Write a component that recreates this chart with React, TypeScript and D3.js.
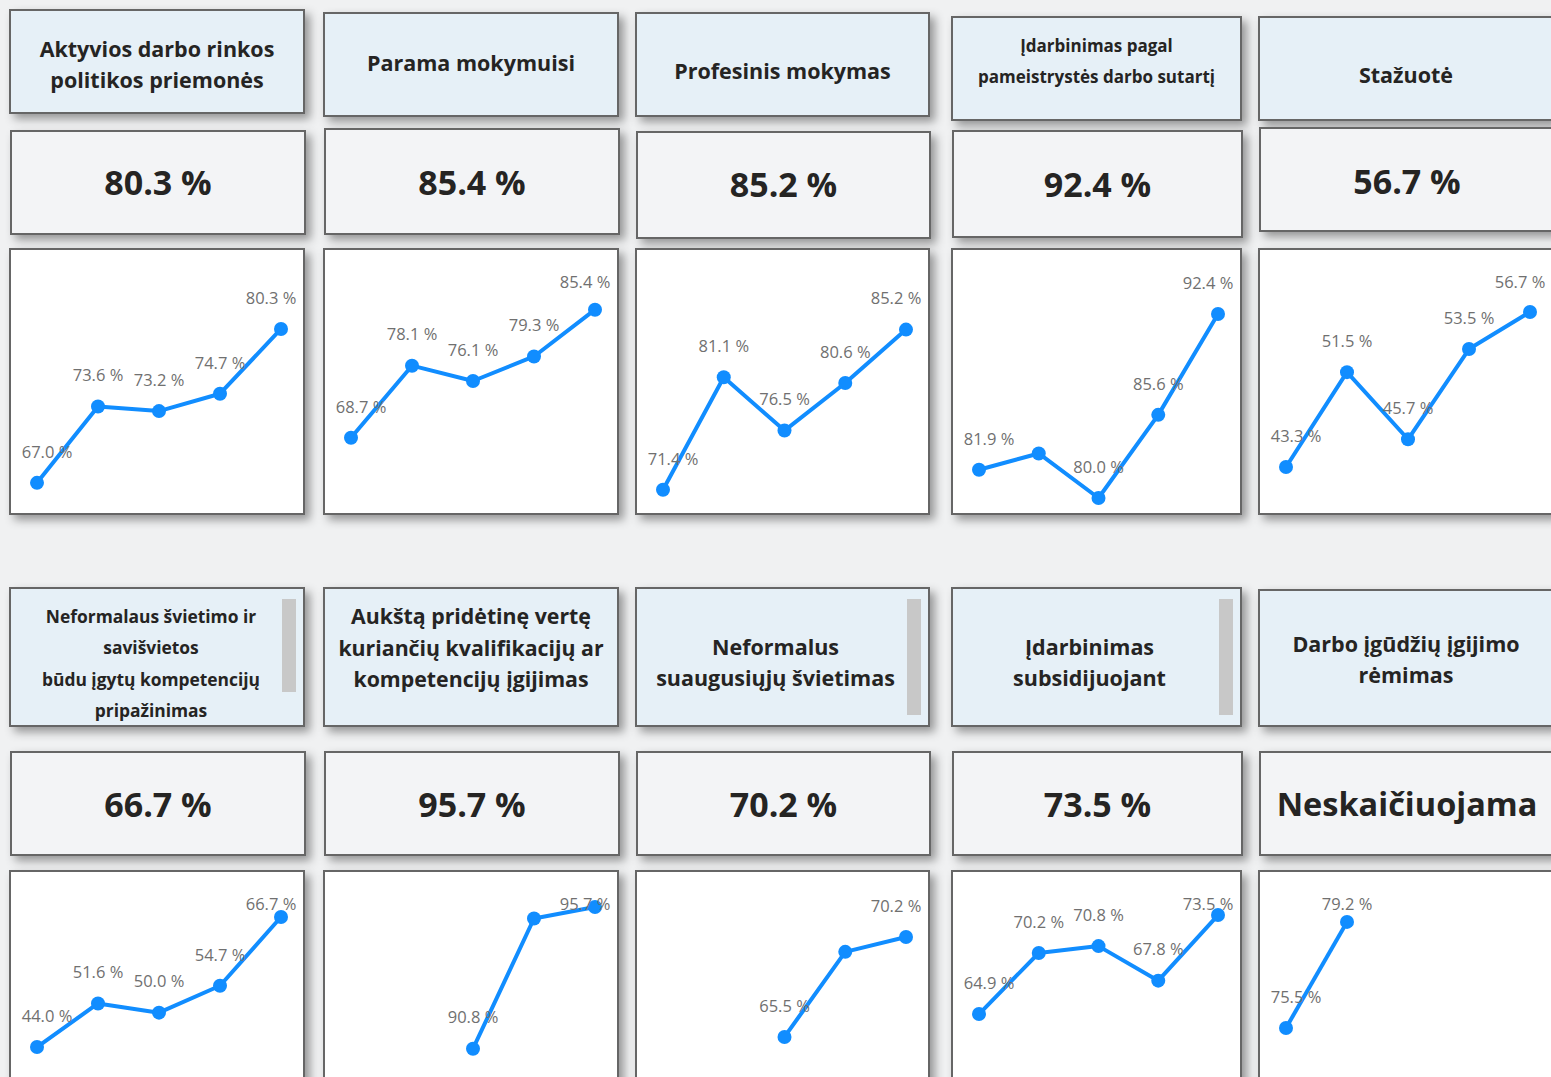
import React from "react";
import * as d3 from "d3";

// ---------- DATA ----------
const periods = ["P1", "P2", "P3", "P4", "P5"];

const titles: string[][] = [
  ["Aktyvios darbo rinkos", "politikos priemonės"],
  ["Parama mokymuisi"],
  ["Profesinis mokymas"],
  ["Įdarbinimas pagal", "pameistrystės darbo sutartį"],
  ["Stažuotė"],
  ["Neformalaus švietimo ir", "savišvietos", "būdu įgytų kompetencijų", "pripažinimas"],
  ["Aukštą pridėtinę vertę", "kuriančių kvalifikacijų ar", "kompetencijų įgijimas"],
  ["Neformalus", "suaugusiųjų švietimas"],
  ["Įdarbinimas", "subsidijuojant"],
  ["Darbo įgūdžių įgijimo", "rėmimas"],
];

const cardValues = ["80.3 %", "85.4 %", "85.2 %", "92.4 %", "56.7 %", "66.7 %", "95.7 %", "70.2 %", "73.5 %", "Neskaičiuojama"];

const s1 = [67.0, 73.6, 73.2, 74.7, 80.3];
const s2 = [68.7, 78.1, 76.1, 79.3, 85.4];
const s3 = [71.4, 81.1, 76.5, 80.6, 85.2];
const s4 = [81.9, 83.0, 80.0, 85.6, 92.4];
const s5 = [43.3, 51.5, 45.7, 53.5, 56.7];
const s6 = [44.0, 51.6, 50.0, 54.7, 66.7];
const s7 = [null, null, 90.8, 95.3, 95.7];
const s8 = [null, null, 65.5, 69.5, 70.2];
const s9 = [64.9, 70.2, 70.8, 67.8, 73.5];
const s10 = [75.5, 79.2, null, null, null];
const series: (number | null)[][] = [s1, s2, s3, s4, s5, s6, s7, s8, s9, s10];

// value-axis extents of each small chart
const yMins = [65.0, 59.8, 70.0, 79.46, 39.93, 29.86, 88.06, 61.22, 55.0, 72.01];
const yMaxs = [83.75, 88.1, 88.7, 94.08, 58.69, 67.75, 95.56, 71.42, 73.85, 79.58];

// ---------- LAYOUT ----------
const W = 1551;
const H = 1077;
const colX = [10, 324, 636, 952, 1259];
const colW = [294, 294, 293, 289, 294];

const titleTop = [10, 13, 13, 17, 17, 588, 588, 588, 588, 590];
const titleBot = [113, 116, 116, 120, 120, 726, 726, 726, 726, 726];
const cardTop = [131, 129, 132, 131, 128, 752, 752, 752, 752, 752];
const cardBot = [234, 234, 238, 237, 231, 855, 855, 855, 855, 855];
const chartTop = [249, 249, 249, 249, 249, 871, 871, 871, 871, 871];
const chartBot = [514, 514, 514, 514, 514, 1140, 1140, 1140, 1140, 1140];

const titleFont = [21.5, 21.5, 21.5, 17, 21.5, 17.4, 21.3, 21.5, 21.5, 21.5];
const titleFirstY = [49, 63, 71, 46, 75, 617, 617, 647, 647, 644];
const titleDx = [0, 0, 0, 0, 0, -6, 0, -7, -7, 0];
const scrollbar = [false, false, false, false, false, true, false, true, true, false];
const scrollbarH = [0, 0, 0, 0, 0, 93, 0, 116, 116, 0];
const valueY = [183, 183, 185, 185, 182, 805, 805, 805, 805, 805];
const valueFont = [34, 34, 34, 34, 34, 34, 34, 34, 34, 32.5];

const BLUE = "#118DFF";
const FONT = "'Segoe UI', 'Open Sans', 'Noto Sans', sans-serif";
const LABEL_W = 54;
const LABEL_H = 18;

function Chart({ i }: { i: number }) {
  const x0 = colX[i % 5];
  const w = colW[i % 5];
  const top = chartTop[i];
  const h = chartBot[i] - top;
  const data = series[i];
  const xs = d3.scalePoint<string>().domain(periods).range([x0 + 27, x0 + w - 23]);
  const ys = d3.scaleLinear().domain([yMins[i], yMaxs[i]]).range([top + 257, top + 40]);
  const pts = data.map((v, k) => ({ v, k, x: xs(periods[k]) as number, y: v == null ? 0 : ys(v) }));
  const line = d3
    .line<{ v: number | null; x: number; y: number }>()
    .defined((d) => d.v != null)
    .x((d) => d.x)
    .y((d) => d.y);

  // label placement: first & last first, then the rest; drop overlaps
  const valid = pts.filter((p) => p.v != null);
  const order = valid.length > 1 ? [valid[0], valid[valid.length - 1], ...valid.slice(1, -1)] : valid;
  const placed: { x: number; y: number; t: string }[] = [];
  order.forEach((p) => {
    let lx = p.x;
    lx = Math.max(lx, x0 + 10 + LABEL_W / 2);
    lx = Math.min(lx, x0 + w - 6 - LABEL_W / 2);
    const ly = Math.max(p.y - 31, top + 33);
    const hit = placed.some((q) => Math.abs(q.x - lx) < LABEL_W && Math.abs(q.y - ly) < LABEL_H);
    if (!hit) placed.push({ x: lx, y: ly, t: `${(p.v as number).toFixed(1)} %` });
  });

  return (
    <g>
      <rect x={x0} y={top} width={w} height={h} fill="#ffffff" stroke="#666" strokeWidth={2} filter="url(#shadow)" />
      <path d={line(pts) || ""} fill="none" stroke={BLUE} strokeWidth={4} strokeLinejoin="round" />
      {valid.map((p) => (
        <circle key={p.k} cx={p.x} cy={p.y} r={7} fill={BLUE} />
      ))}
      {placed.map((l, k) => (
        <text key={k} x={l.x} y={l.y} dy="0.35em" textAnchor="middle" fontFamily={FONT} fontSize={16.5} fill="#707070">
          {l.t}
        </text>
      ))}
    </g>
  );
}

function Panel({ i }: { i: number }) {
  const x0 = colX[i % 5];
  const w = colW[i % 5];
  const tTop = titleTop[i];
  const tH = titleBot[i] - tTop;
  const cx = x0 + w / 2;
  const fs = titleFont[i];
  return (
    <g>
      <clipPath id={`clip${i}`}>
        <rect x={x0 + 1} y={tTop + 1} width={w - 2} height={tH - 2} />
      </clipPath>
      <rect x={x0} y={tTop} width={w} height={tH} fill="#e6f0f7" stroke="#666" strokeWidth={2} filter="url(#shadow)" />
      <g clipPath={`url(#clip${i})`}>
        {titles[i].map((t, k) => (
          <text
            key={k}
            x={cx + titleDx[i]}
            y={titleFirstY[i] + k * 31.3}
            dy="0.35em"
            textAnchor="middle"
            fontFamily={FONT}
            fontWeight={700}
            fontSize={fs}
            fill="#252423"
          >
            {t}
          </text>
        ))}
      </g>
      {scrollbar[i] && (
        <rect x={x0 + w - 22} y={tTop + 11} width={14} height={scrollbarH[i]} fill="#c8c8c8" />
      )}
      <rect
        x={x0 + 1}
        y={cardTop[i]}
        width={w}
        height={cardBot[i] - cardTop[i]}
        fill="#f3f4f6"
        stroke="#666"
        strokeWidth={2}
        filter="url(#shadow)"
      />
      <text
        x={cx + 1}
        y={valueY[i]}
        dy="0.35em"
        textAnchor="middle"
        fontFamily={FONT}
        fontWeight={700}
        fontSize={valueFont[i]}
        fill="#252423"
      >
        {cardValues[i]}
      </text>
      <Chart i={i} />
    </g>
  );
}

export default function App() {
  return (
    <svg width={W} height={H} style={{ position: "absolute", left: 0, top: 0, display: "block" }}>
      <defs>
        <filter id="shadow" x="-10%" y="-10%" width="130%" height="130%">
          <feDropShadow dx={5} dy={5} stdDeviation={5} floodColor="#000" floodOpacity={0.38} />
        </filter>
      </defs>
      <rect x={0} y={0} width={W} height={H} fill="#f0f1f2" />
      {titles.map((_, i) => (
        <Panel key={i} i={i} />
      ))}
    </svg>
  );
}
